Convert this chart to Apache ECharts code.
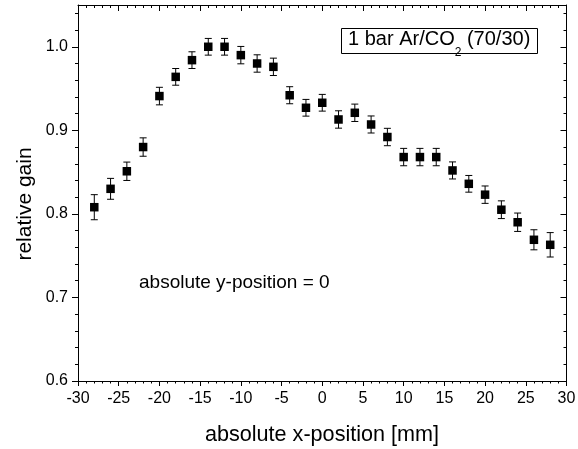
<!DOCTYPE html>
<html>
<head>
<meta charset="utf-8">
<script src="https://cdn.jsdelivr.net/npm/echarts@6/dist/echarts.min.js"></script>
<style>
  html, body { margin: 0; padding: 0; background: #fff; }
  #chart { width: 578px; height: 449px; }
</style>
</head>
<body>
<div id="chart"></div>
<script>
// Scan positions along x (mm)
const xPos = [-28, -26, -24, -22, -20, -18, -16, -14, -12, -10, -8, -6, -4, -2, 0,
              2, 4, 6, 8, 10, 12, 14, 16, 18, 20, 22, 24, 26, 28];
// Relative gain measured at each position
const gain = [0.808, 0.830, 0.851, 0.880, 0.941, 0.964, 0.984, 1.000, 1.000, 0.990,
              0.980, 0.976, 0.942, 0.927, 0.933, 0.913, 0.921, 0.907, 0.892, 0.868,
              0.868, 0.868, 0.852, 0.836, 0.823, 0.805, 0.790, 0.769, 0.763];
// Uncertainty on the relative gain
const gainErr = [0.015, 0.0125, 0.011, 0.011, 0.0105, 0.010, 0.010, 0.010, 0.010, 0.0104,
                 0.0104, 0.0104, 0.0102, 0.010, 0.010, 0.0104, 0.0104, 0.0102, 0.0104, 0.0104,
                 0.0104, 0.0104, 0.0102, 0.010, 0.0104, 0.0106, 0.011, 0.012, 0.0146];

// Labelled tick values
const xTicks = [-30, -25, -20, -15, -10, -5, 0, 5, 10, 15, 20, 25, 30];
const yTicks = [0.6, 0.7, 0.8, 0.9, 1.0];

const X_MIN = -30, X_MAX = 30, Y_MIN = 0.6, Y_MAX = 1.05;

// Minor tick positions (every 1 mm on x, every 0.02 on y)
const xMinor = [];
for (let v = X_MIN; v <= X_MAX; v += 1) xMinor.push(v);
const yMinor = [];
for (let i = 0; Y_MIN + i * 0.02 <= Y_MAX - 1e-9; i++) yMinor.push(+(Y_MIN + i * 0.02).toFixed(2));

const FONT = '"Liberation Sans", Arial, sans-serif';
const BLACK = '#000';

const gridBox = { left: 78, right: 11.5, top: 5, bottom: 68 };

function xAxisDef(gridIndex, position, ticks, len, inside, withLine, withLabels) {
  return {
    type: 'value', gridIndex, position, min: X_MIN, max: X_MAX,
    axisLine: { show: withLine, onZero: false, lineStyle: { color: BLACK, width: 1 } },
    axisTick: { show: true, inside, length: len, customValues: ticks, lineStyle: { color: BLACK, width: 1 } },
    axisLabel: withLabels ? {
      show: true, customValues: xTicks, color: BLACK, fontSize: 16, fontFamily: FONT, margin: 10,
      formatter: v => String(v)
    } : { show: false },
    splitLine: { show: false }
  };
}

function yAxisDef(gridIndex, position, ticks, len, inside, withLine, withLabels) {
  return {
    type: 'value', gridIndex, position, min: Y_MIN, max: Y_MAX,
    axisLine: { show: withLine, onZero: false, lineStyle: { color: BLACK, width: 1 } },
    axisTick: { show: true, inside, length: len, customValues: ticks, lineStyle: { color: BLACK, width: 1 } },
    axisLabel: withLabels ? {
      show: true, customValues: yTicks, color: BLACK, fontSize: 16, fontFamily: FONT, margin: 10,
      formatter: v => v.toFixed(1)
    } : { show: false },
    splitLine: { show: false }
  };
}

const chart = echarts.init(document.getElementById('chart'), null, { renderer: 'canvas' });

chart.setOption({
  animation: false,
  backgroundColor: '#fff',
  grid: [
    Object.assign({ outerBoundsMode: 'none' }, gridBox),
    Object.assign({ outerBoundsMode: 'none' }, gridBox)
  ],
  xAxis: [
    xAxisDef(0, 'bottom', xTicks, 5, false, true, true),
    xAxisDef(0, 'top', xTicks, 6, true, true, false),
    xAxisDef(1, 'bottom', xMinor, 2.5, false, false, false),
    xAxisDef(1, 'top', xMinor, 3, true, false, false)
  ],
  yAxis: [
    yAxisDef(0, 'left', yTicks, 6, false, true, true),
    yAxisDef(0, 'right', yTicks, 6, true, true, false),
    yAxisDef(1, 'left', yMinor, 3, false, false, false),
    yAxisDef(1, 'right', yMinor, 3, true, false, false)
  ],
  graphic: [
    {
      type: 'text', x: 322, y: 435, silent: true,
      style: { text: 'absolute x-position [mm]', font: '21.6px ' + FONT, fill: BLACK, align: 'center', verticalAlign: 'middle' }
    },
    {
      type: 'text', x: 25, y: 204, rotation: Math.PI / 2, silent: true,
      style: { text: 'relative gain', font: '21px ' + FONT, fill: BLACK, align: 'center', verticalAlign: 'middle' }
    },
    {
      type: 'text', x: 139, y: 283, silent: true,
      style: { text: 'absolute y-position = 0', font: '19px ' + FONT, fill: BLACK, align: 'left', verticalAlign: 'middle' }
    },
    {
      type: 'rect', silent: true,
      shape: { x: 341.5, y: 28.5, width: 196, height: 25 },
      style: { fill: '#fff', stroke: BLACK, lineWidth: 1 }
    },
    {
      type: 'text', x: 348, y: 29, silent: true,
      style: {
        text: '{t|1 bar Ar/CO}{s|2}{t| (70/30)}',
        align: 'left', verticalAlign: 'top', fill: BLACK,
        rich: {
          t: { fontSize: 20, fontFamily: FONT, lineHeight: 30, verticalAlign: 'top', fill: BLACK },
          s: { fontSize: 12, fontFamily: FONT, lineHeight: 6, verticalAlign: 'bottom', fill: BLACK }
        }
      }
    }
  ],
  series: [
    {
      // vertical error bars with caps
      type: 'custom',
      xAxisIndex: 0, yAxisIndex: 0,
      data: xPos.map((x, i) => [x, gain[i], gainErr[i]]),
      renderItem: (params, api) => {
        const x = api.value(0), y = api.value(1), e = api.value(2);
        const lo = api.coord([x, y - e]);
        const hi = api.coord([x, y + e]);
        const cap = 3.5;
        const st = { stroke: BLACK, lineWidth: 1 };
        return {
          type: 'group',
          children: [
            { type: 'line', shape: { x1: lo[0], y1: lo[1], x2: hi[0], y2: hi[1] }, style: st },
            { type: 'line', shape: { x1: lo[0] - cap, y1: lo[1], x2: lo[0] + cap, y2: lo[1] }, style: st },
            { type: 'line', shape: { x1: hi[0] - cap, y1: hi[1], x2: hi[0] + cap, y2: hi[1] }, style: st }
          ]
        };
      },
      z: 2
    },
    {
      type: 'scatter',
      xAxisIndex: 0, yAxisIndex: 0,
      symbol: 'rect', symbolSize: 8.5,
      itemStyle: { color: BLACK, opacity: 1 },
      data: xPos.map((x, i) => [x, gain[i]]),
      z: 3
    }
  ]
});
</script>
</body>
</html>
